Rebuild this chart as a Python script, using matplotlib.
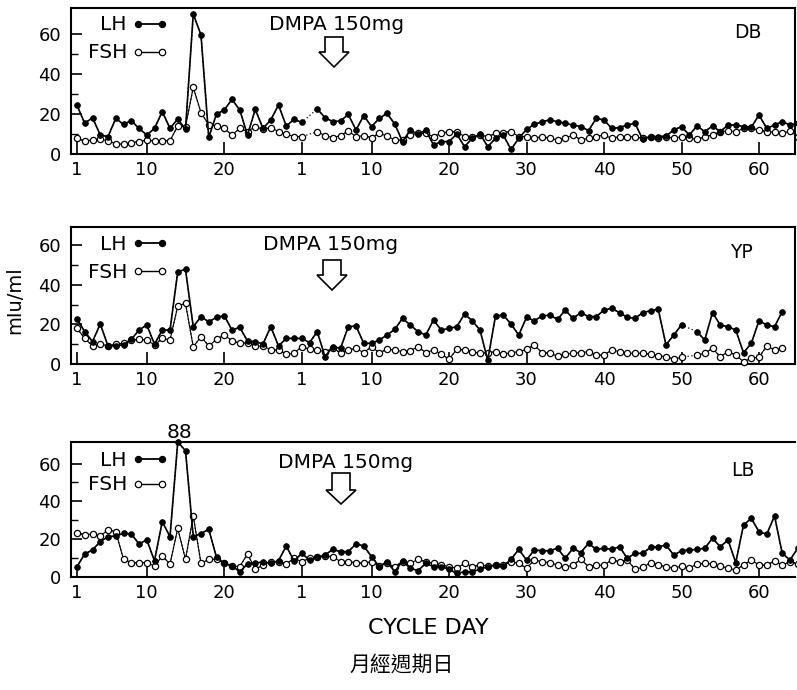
import numpy as np
import matplotlib as mpl
mpl.use('Agg')
import matplotlib.pyplot as plt
from matplotlib.lines import Line2D
from matplotlib.patches import Polygon

nan = np.nan
plt.rcParams['font.family'] = ['DejaVu Sans']

# x axis: first cycle days 1..29, then days 1..65 after the injection cycle
tick_pos = [1, 10, 20, 30, 39, 49, 59, 69, 79, 89]
tick_lab = ['1', '10', '20', '1', '10', '20', '30', '40', '50', '60']
cycle2_offset = 29

# DB
db_lh_c1 = [24.3, 15.3, 18.2, 9.5, 8.7, 17.8, 14.8, 16.7, 12.8, 9.5, 12.8, 21.2, 12.8, 17.5, 12.3,
            70, 59.5, 8.3, 20, 22, 27.3, 22, 9.5, 22.3, 12.8, 17, 24.5, 14, 17.3]
db_fsh_c1 = [7.8, 6.5, 7, 7.3, 6.7, 5, 5, 5.7, 6.2, 7, 6.5, 6.5, 6.7, 14, 13.7,
             33.3, 20.7, 14.5, 14, 12.8, 9.5, 12.8, 11.2, 13.7, 12.3, 13.2, 11.2, 10, 8.7]
db_lh_c2 = [15.8, nan, 22.5, 18.2, 16.2, 16.5, 19.8, 12, 19.2, 13.7, 17.8, 20.3, 15, 6.2, 12,
            9.8, 12, 4.5, 6.2, 6.2, 10, 3.7, 7.8, 10, 3.7, 7.8, 9.5, 2.3, 7.8, 12.3,
            14.8, 16.2, 17, 16.2, 15.3, 14.5, 13.7, 11.7, 17.8, 17, 12.8, 13.2, 14.5, 15.3, 7.3,
            8.7, 8.7, 9, 12, 13.7, 9.5, 14, 11.2, 14, 11.2, 14.5, 14.5, 13.7, 13.3, 19.5,
            12.8, 14.5, 16.2, 14.5, 15.3]
db_fsh_c2 = [8.7, nan, 11.2, 9.2, 8.2, 9.2, 11.5, 8.7, 9.2, 8.2, 10.3, 9, 7, 7, 9.5,
             10.3, 10.3, 8.7, 10.3, 11.2, 11.2, 8.7, 8.7, 9.5, 8.7, 10.3, 10.7, 11.2, 8.7, 8.7,
             7.8, 8.7, 7.8, 7, 7.8, 9.5, 7, 7.8, 8.7, 9.5, 7.8, 8.7, 8.7, 8.7, 7.8,
             8.7, 7.8, 8.7, 7.8, 8.7, 7.8, 7.3, 8.7, 9.5, 11.2, 11.5, 11.2, 12.8, 12.8, 12,
             11.2, 10.8, 10.3, 11.5, 8.7]

# YP
yp_lh_c1 = [22.7, 16.3, 11.3, 20.2, 9.1, 9.2, 9.6, 12.4, 17.1, 19.7, 10, 17.1, 17.1, 46.6, 47.7,
            18.8, 23.9, 21.3, 23.5, 24.4, 17.1, 18.5, 11.6, 11.3, 10.1, 18.8, 9.1, 12.9, 12.9]
yp_fsh_c1 = [18, 12.9, 9.1, 10.1, 9.1, 10.1, 10.4, 12.1, 12.4, 12.1, 9.6, 12.9, 12.1, 29.2, 30.6,
             8.7, 13.8, 9.1, 12.4, 14.6, 11.8, 10.4, 10.8, 9.1, 9.1, 7.1, 7.1, 5, 5.4]
yp_lh_c2 = [12.9, 10.8, 16.3, 3.7, 8.7, 7.9, 18.8, 19.2, 10.4, 10.4, 12.1, 14.6, 17.5, 23, 19.7,
            16.3, 14.6, 22.2, 17.1, 18, 18.8, 25.2, 21.8, 17.1, 2, 24.2, 24.7, 20.2, 14.6, 23.5,
            21.8, 24.2, 24.7, 22.5, 27.2, 23, 25.9, 23.9, 23.9, 27.2, 28.1, 25.9, 23.5, 23, 25.9,
            26.9, 27.6, 9.6, 14.6, 19.7, nan, 16.3, 12.1, 25.9, 19.7, 18.8, 17.1, 5.7, 10.4, 21.8,
            19.7, 18.8, 26.4]
yp_fsh_c2 = [8.7, 7.4, 7.1, 6.2, 7.9, 5.7, 7.1, 7.9, 5.7, 8.7, 5.7, 7.4, 7.1, 6.2, 6.7,
             8.7, 5.7, 7.1, 5, 2.4, 7.4, 7.1, 6.2, 5.4, 5.7, 6.2, 5, 5.7, 6.2, 7.4,
             9.6, 5.7, 5.4, 4, 5, 5.4, 5.7, 6.2, 4.5, 4.5, 7.1, 6.2, 5.4, 5.4, 5.4,
             4.9, 4, 3.7, 2.4, 3.4, nan, 4.5, 5.4, 7.9, 3.7, 6.2, 4.5, 1.2, 2.9, 3.4,
             9.1, 7.1, 7.9]

# LB
lb_lh_c1 = [5.5, 12.2, 14.3, 18.7, 21.3, 21.7, 23.1, 22.8, 17.5, 19.6, 8.6, 29.3, 21.3, 88, 66.8,
            21.3, 23, 25.2, 10.4, 7.2, 5.8, 2.8, 6.9, 7.2, 8.1, 7.2, 8.6, 16.4, 8.5]
lb_fsh_c1 = [23.5, 22.2, 22.8, 21.7, 24.9, 24, 9.3, 7.6, 7.6, 7.6, 5.8, 11.1, 6.9, 25.7, 9.3,
             32.3, 7.2, 9.3, 9.3, 7.6, 5.8, 5.5, 12.2, 4.1, 6.3, 8.1, 8.1, 6.9, 9.9]
lb_lh_c2 = [12.5, 9, 10.4, 11.6, 14.6, 13.4, 13.4, 17.5, 16.4, 10.8, 5.5, 8.1, 2.8, 8.6, 4.6,
            3.4, 7.2, 5.5, 5.5, 4.1, 1.9, 2.8, 2.8, 4.1, 5.5, 6.3, 5.8, 9.3, 14.6, 9,
            14.3, 13.9, 13.9, 15.2, 9.9, 15.2, 12.9, 17.8, 14.6, 15.2, 14.6, 16, 9.9, 12.5, 12.5,
            15.7, 16, 16.9, 11.6, 13.9, 14.3, 14.6, 15.2, 20.5, 16, 19.6, 7.6, 27.5, 31, 24,
            22.6, 32.3, 12.5, 9, 15.2]
lb_fsh_c2 = [8.1, 9.9, 10.4, 11.1, 10.8, 8.1, 8.1, 7.6, 7.2, 8.1, 5.8, 7.2, 5.5, 8.1, 7.2,
             9.3, 8.1, 7.2, 6.3, 5.5, 4.6, 7.2, 5.5, 6.3, 5.8, 6.3, 6.3, 8.1, 7.2, 4.6,
             9, 8.1, 7.6, 6.3, 5.1, 6.3, 9.3, 5.5, 6.3, 6.3, 9, 8.1, 9, 4.1, 5.1,
             7.6, 6.3, 5.5, 4.6, 5.8, 4.6, 6.9, 7.2, 6.9, 5.8, 4.6, 3.7, 6.3, 9, 6.3,
             6.3, 8.5, 6.3, 8.1, 7]

W, H = 797, 690


def fx(x):
    return x / W


def fy(y):
    return 1 - y / H


def days(c1, c2):
    return np.r_[np.arange(1, len(c1) + 1), cycle2_offset + np.arange(1, len(c2) + 1)]


def draw_series(ax, x, vals, top, filled):
    y = np.minimum(np.asarray(vals, float), top)
    ok = ~np.isnan(y)
    ax.plot(x[ok], y[ok], ls=(0, (1, 2)), color='k', lw=0.9, clip_on=False)
    if filled:
        ax.plot(x, y, '-o', color='k', lw=1.2, ms=4.1, mfc='k', mec='k', mew=0.6, clip_on=False, zorder=4)
    else:
        ax.plot(x, y, '-o', color='k', lw=0.8, ms=4.5, mfc='w', mec='k', mew=0.9, clip_on=False, zorder=3)


fig = plt.figure(figsize=(7.97, 6.90), dpi=100)

panels = [
    ('DB', db_lh_c1, db_fsh_c1, db_lh_c2, db_fsh_c2),
    ('YP', yp_lh_c1, yp_fsh_c1, yp_lh_c2, yp_fsh_c2),
    ('LB', lb_lh_c1, lb_fsh_c1, lb_lh_c2, lb_fsh_c2),
]
# pixel layout: top, bottom of each axes box
boxes = [(8, 154), (227, 364), (442, 577)]
ytops = [73.0, 69.1, 71.4]
left_px, right_px = 71, 795
xlim = (1 + (left_px - 77) / 7.75, 1 + (right_px - 77) / 7.75)

# legend / annotation pixel positions per panel
lh_y = [25, 244, 460]
fsh_y = [53, 272, 485]
dmpa_xy = [(337, 25), (331, 245), (346, 462)]
name_xy = [(748, 32), (741, 252), (743, 470)]
arrows = [(334, 37, 52, 67), (332, 260, 275, 290), (341, 473, 490, 504)]

for i, (name, lh1, fsh1, lh2, fsh2) in enumerate(panels):
    top_px, bot_px = boxes[i]
    ax = fig.add_axes([fx(left_px), fy(bot_px), (right_px - left_px) / W, (bot_px - top_px) / H])
    ax.set_xlim(*xlim)
    ax.set_ylim(0, ytops[i])
    x = days(lh1, lh2)
    draw_series(ax, x, list(fsh1) + list(fsh2), ytops[i], False)
    draw_series(ax, x, list(lh1) + list(lh2), ytops[i], True)

    ax.set_xticks(tick_pos)
    ax.set_xticklabels(tick_lab)
    ax.set_yticks([0, 20, 40, 60])
    ax.set_yticks([10, 30, 50], minor=True)
    ax.tick_params(axis='x', direction='in', length=9, width=1.2, pad=5, labelsize=13)
    ax.tick_params(axis='y', which='major', direction='in', length=8, width=1.2, pad=7, labelsize=13)
    ax.tick_params(axis='y', which='minor', direction='in', length=5, width=1.0)
    for s in ax.spines.values():
        s.set_linewidth(1.5)
    if i == 2:
        ax.spines['right'].set_visible(False)

    # legend drawn by hand
    fig.text(fx(127), fy(lh_y[i]), 'LH', ha='right', va='center', fontsize=14.5)
    fig.text(fx(127), fy(fsh_y[i]), 'FSH', ha='right', va='center', fontsize=14.5)
    fig.add_artist(Line2D([fx(138), fx(162)], [fy(lh_y[i] - 1)] * 2, transform=fig.transFigure,
                          color='k', lw=1.3, marker='o', ms=4.3, mfc='k', mec='k'))
    fig.add_artist(Line2D([fx(138), fx(162)], [fy(fsh_y[i] - 1)] * 2, transform=fig.transFigure,
                          color='k', lw=1.0, marker='o', ms=4.6, mfc='w', mec='k', mew=0.9))

    dx, dy = dmpa_xy[i]
    fig.text(fx(dx), fy(dy), 'DMPA 150mg', ha='center', va='center', fontsize=14.5)
    cx, ytop, yhead, ytip = arrows[i]
    pts = [(cx - 9, ytop), (cx + 9, ytop), (cx + 9, yhead), (cx + 15, yhead), (cx, ytip),
           (cx - 15, yhead), (cx - 9, yhead)]
    fig.add_artist(Polygon([(fx(a), fy(b)) for a, b in pts], closed=True, transform=fig.transFigure,
                           facecolor='w', edgecolor='k', lw=1.2))
    nx, ny = name_xy[i]
    fig.text(fx(nx), fy(ny), name, ha='center', va='center', fontsize=13.5)

fig.text(fx(180), fy(432), '88', ha='center', va='center', fontsize=14.5)
fig.text(fx(15), fy(300), 'mIu/ml', ha='center', va='center', rotation=90, fontsize=14)
fig.text(fx(428), fy(628), 'CYCLE DAY', ha='center', va='center', fontsize=16)
fig.text(fx(402), fy(665), '月經週期日', ha='center', va='center', fontsize=15,
         family=['Noto Sans CJK TC', 'DejaVu Sans'])

fig.savefig('out.png', dpi=100)
